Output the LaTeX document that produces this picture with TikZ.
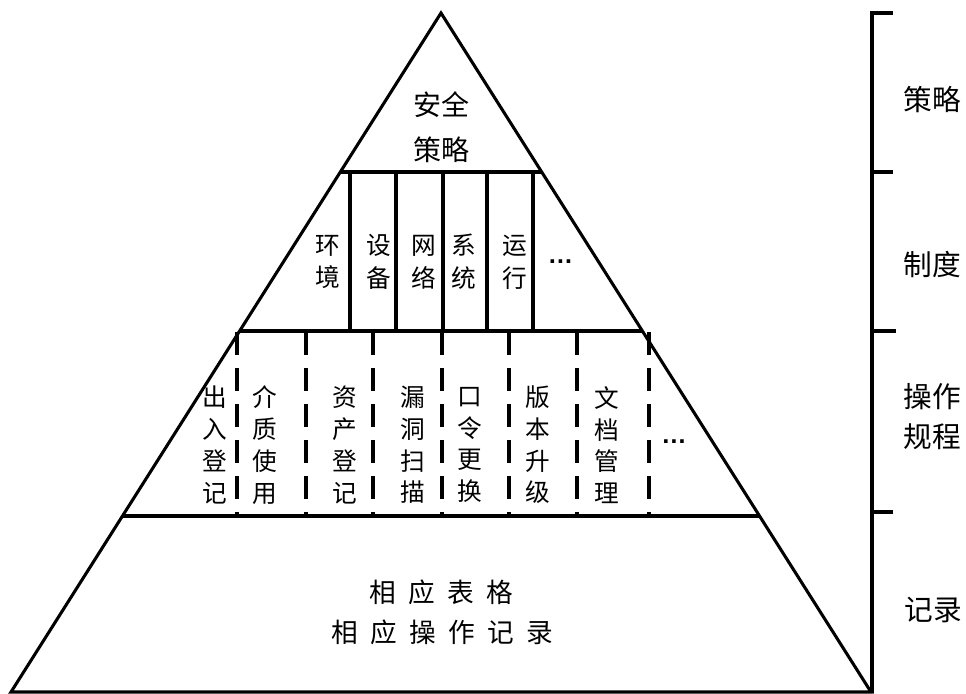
\documentclass[tikz,border=0pt]{standalone}
\usepackage{fontspec}
\newfontfamily\cjk{Noto Sans CJK SC}
\newfontfamily\dotfont{Liberation Sans}
\usetikzlibrary{calc}
\newcommand\lsgap{\hspace{9.2pt}}
\tikzset{
  thick line/.style={line width=2.3pt, line join=miter},
  dash line/.style={line width=2.3pt, dash pattern=on 17pt off 10pt, dash phase=-1pt},
  bandtext/.style={font=\cjk\fontsize{18.5pt}{24.5pt}\selectfont, align=center, inner sep=0pt},
  optext/.style={font=\cjk\fontsize{18.5pt}{23.8pt}\selectfont, align=center, inner sep=0pt},
  toptext/.style={font=\cjk\fontsize{21pt}{33.5pt}\selectfont, align=center, inner sep=0pt},
  sidetext/.style={font=\cjk\fontsize{21.5pt}{30pt}\selectfont, align=center, inner sep=0pt},
  bottomtext/.style={font=\cjk\fontsize{20pt}{30pt}\selectfont, inner sep=0pt},
  dotstext/.style={font=\dotfont\bfseries\fontsize{19pt}{19pt}\selectfont, inner sep=0pt, anchor=base},
}
\begin{document}
\begin{tikzpicture}[x=0.75pt, y=-0.75pt]
\useasboundingbox (0,0) rectangle (966,693);
% triangle corners
\coordinate (A) at (441,13);
\coordinate (L) at (11,692);
\coordinate (R) at (871,692);
% band boundaries
\coordinate (l1) at ($(A)!0.23417!(L)$);
\coordinate (r1) at ($(A)!0.23417!(R)$);
\coordinate (l2) at ($(A)!0.46834!(L)$);
\coordinate (r2) at ($(A)!0.46834!(R)$);
\coordinate (l3) at ($(A)!0.74080!(L)$);
\coordinate (r3) at ($(A)!0.74080!(R)$);
\draw[thick line] (A) -- (L) -- (R) -- cycle;
\draw[thick line] (l1) -- (r1);
\draw[thick line] (l2) -- (r2);
\draw[thick line] (l3) -- (r3);
% solid columns in middle band
\foreach \x [count=\i] in {350,396,443,487,533} {
  \coordinate (s\i t) at (\x,172);
  \coordinate (s\i b) at (\x,331);
  \draw[thick line] (s\i t) -- (s\i b);
}
% dashed columns in operation band
\foreach \x [count=\i] in {237,306,373,442,509,577,649} {
  \coordinate (d\i t) at (\x,331);
  \coordinate (d\i b) at (\x,516);
  \draw[dash line] (d\i t) -- (d\i b);
}
% bracket on the right
\coordinate (b0) at (893,13);
\coordinate (b0c) at (872,13);
\coordinate (bend) at (872,693);
\coordinate (b1) at (893,172);
\coordinate (b1c) at (872,172);
\coordinate (b2) at (896,331);
\coordinate (b2c) at (872,331);
\coordinate (b3) at (893,512);
\coordinate (b3c) at (872,512);
\draw[thick line] (b0) -- (b0c) -- (bend);
\draw[thick line] (b1c) -- (b1);
\draw[thick line] (b2c) -- (b2);
\draw[thick line] (b3c) -- (b3);
% texts
\node[toptext] (top) at (441,127) {安全\\策略};
\node[bandtext] (m1) at (327.5,262) {环\\境};
\node[bandtext] (m2) at (379,262) {设\\备};
\node[bandtext] (m3) at (424,262) {网\\络};
\node[bandtext] (m4) at (464,262) {系\\统};
\node[bandtext] (m5) at (515,262) {运\\行};
\node[dotstext] (m6) at (560.5,263.8) {…};
\node[optext] (o1) at (215,445) {出\\入\\登\\记};
\node[optext] (o2) at (265,445) {介\\质\\使\\用};
\node[optext] (o3) at (345,445) {资\\产\\登\\记};
\node[optext] (o4) at (413,445) {漏\\洞\\扫\\描};
\node[optext] (o5) at (470,445) {口\\令\\更\\换};
\node[optext] (o6) at (538,445) {版\\本\\升\\级};
\node[optext] (o7) at (607,445) {文\\档\\管\\理};
\node[dotstext] (o8) at (674,443.5) {…};
\node[bottomtext] (r1t) at (441,592) {相\lsgap 应\lsgap 表\lsgap 格};
\node[bottomtext] (r2t) at (442,632) {相\lsgap 应\lsgap 操\lsgap 作\lsgap 记\lsgap 录};
\node[sidetext] (c1) at (932,100) {策略};
\node[sidetext] (c2) at (932,265) {制度};
\node[sidetext] (c3) at (932,417) {操作\\规程};
\node[sidetext] (c4) at (933,610) {记录};
\end{tikzpicture}
\end{document}
